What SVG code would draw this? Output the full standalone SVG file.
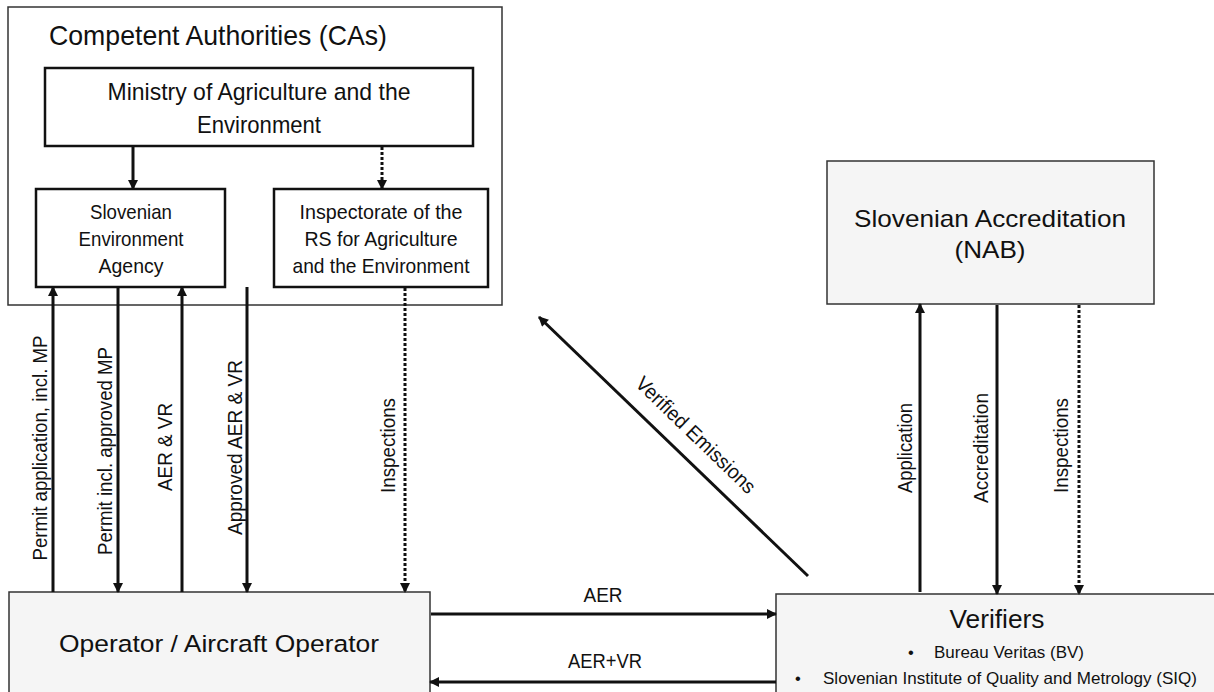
<svg xmlns="http://www.w3.org/2000/svg" width="1214" height="692" viewBox="0 0 1214 692">
  <style>
    text { font-family: "Liberation Sans", Arial, sans-serif; fill: #111; }
    .c { text-anchor: middle; }
    .box { fill: #ffffff; stroke: #111; stroke-width: 2.5; }
    .outer { fill: #ffffff; stroke: #333; stroke-width: 1.5; }
    .grey { fill: #f5f5f5; stroke: #333; stroke-width: 1.5; }
    .solid { stroke: #111; stroke-width: 3; fill: none; marker-end: url(#head); }
    .dot { stroke: #111; stroke-width: 3; fill: none; stroke-dasharray: 3 2; marker-end: url(#head); }
    .lbl { font-size: 20.5px; text-anchor: middle; }
  </style>
  <defs>
    <marker id="head" viewBox="0 0 10 10" refX="9" refY="5" markerWidth="11" markerHeight="10" markerUnits="userSpaceOnUse" orient="auto">
      <path d="M0,0 L10,5 L0,10 z" fill="#111"/>
    </marker>
  </defs>
  <rect width="1214" height="692" fill="#ffffff"/>

  <!-- Competent Authorities container -->
  <g id="competent-authorities">
    <rect class="outer" x="8" y="7" width="494" height="298"/>
    <text x="49" y="45" font-size="28" textLength="338" lengthAdjust="spacingAndGlyphs">Competent Authorities (CAs)</text>
  </g>

  <g id="ministry">
    <rect class="box" x="45" y="68" width="428" height="78"/>
    <text class="c" x="259" y="100" font-size="24.5" textLength="303" lengthAdjust="spacingAndGlyphs">Ministry of Agriculture and the</text>
    <text class="c" x="259" y="132.5" font-size="24.5" textLength="124" lengthAdjust="spacingAndGlyphs">Environment</text>
  </g>

  <g id="environment-agency">
    <rect class="box" x="36" y="189" width="189" height="98"/>
    <text class="c" x="131" y="218.5" font-size="21" textLength="82" lengthAdjust="spacingAndGlyphs">Slovenian</text>
    <text class="c" x="131" y="246" font-size="21" textLength="105" lengthAdjust="spacingAndGlyphs">Environment</text>
    <text class="c" x="131" y="272.5" font-size="21" textLength="65" lengthAdjust="spacingAndGlyphs">Agency</text>
  </g>

  <g id="inspectorate">
    <rect class="box" x="274" y="189" width="214" height="98"/>
    <text class="c" x="381" y="218.5" font-size="21" textLength="163" lengthAdjust="spacingAndGlyphs">Inspectorate of the</text>
    <text class="c" x="381" y="246" font-size="21" textLength="153" lengthAdjust="spacingAndGlyphs">RS for Agriculture</text>
    <text class="c" x="381" y="273" font-size="21" textLength="177" lengthAdjust="spacingAndGlyphs">and the Environment</text>
  </g>

  <g id="accreditation-body">
    <rect class="grey" x="827" y="161" width="327" height="143"/>
    <text class="c" x="990" y="227" font-size="24" textLength="272" lengthAdjust="spacingAndGlyphs">Slovenian Accreditation</text>
    <text class="c" x="990" y="258" font-size="24" textLength="71" lengthAdjust="spacingAndGlyphs">(NAB)</text>
  </g>

  <g id="operator">
    <rect class="grey" x="9" y="592" width="421" height="112"/>
    <text class="c" x="219" y="652" font-size="24.5" textLength="320" lengthAdjust="spacingAndGlyphs">Operator / Aircraft Operator</text>
  </g>

  <g id="verifiers">
    <rect class="grey" x="776" y="594" width="450" height="112"/>
    <text class="c" x="997" y="628" font-size="26" textLength="95" lengthAdjust="spacingAndGlyphs">Verifiers</text>
    <text x="908" y="658" font-size="16.5">•</text>
    <text x="934" y="658" font-size="16.5" textLength="150" lengthAdjust="spacingAndGlyphs">Bureau Veritas (BV)</text>
    <text x="795" y="684" font-size="16.5">•</text>
    <text x="823" y="684" font-size="16.5" textLength="374" lengthAdjust="spacingAndGlyphs">Slovenian Institute of Quality and Metrology (SIQ)</text>
  </g>

  <!-- Connectors and their labels -->
  <g id="connectors">
    <line class="solid" x1="133" y1="146" x2="133" y2="189"/>
    <line class="dot" x1="382" y1="147" x2="382" y2="189"/>

    <line class="solid" x1="53" y1="592" x2="53" y2="287"/>
    <line class="solid" x1="118" y1="287" x2="118" y2="592"/>
    <line class="solid" x1="182" y1="592" x2="182" y2="287"/>
    <line class="solid" x1="247" y1="287" x2="247" y2="592"/>
    <line class="dot" x1="405" y1="288" x2="405" y2="592"/>

    <line class="solid" x1="808" y1="576" x2="539" y2="317"/>

    <line class="solid" x1="431" y1="614" x2="776" y2="614"/>
    <line class="solid" x1="776" y1="682" x2="430" y2="682"/>

    <line class="solid" x1="920" y1="592" x2="920" y2="304"/>
    <line class="solid" x1="997" y1="305" x2="997" y2="594"/>
    <line class="dot" x1="1079" y1="305" x2="1079" y2="594"/>

    <text class="lbl" transform="translate(47,448) rotate(-90)" textLength="225" lengthAdjust="spacingAndGlyphs">Permit application, incl. MP</text>
    <text class="lbl" transform="translate(111.5,451) rotate(-90)" textLength="208" lengthAdjust="spacingAndGlyphs">Permit incl. approved MP</text>
    <text class="lbl" transform="translate(172,447) rotate(-90)" textLength="88" lengthAdjust="spacingAndGlyphs">AER &amp; VR</text>
    <text class="lbl" transform="translate(242,447.5) rotate(-90)" textLength="175" lengthAdjust="spacingAndGlyphs">Approved AER &amp; VR</text>
    <text class="lbl" transform="translate(395,445.5) rotate(-90)" textLength="95" lengthAdjust="spacingAndGlyphs">Inspections</text>

    <text class="lbl" transform="translate(691,440) rotate(44)" textLength="158" lengthAdjust="spacingAndGlyphs">Verified Emissions</text>

    <text class="lbl" x="603" y="602" textLength="39" lengthAdjust="spacingAndGlyphs">AER</text>
    <text class="lbl" x="605" y="668" textLength="74" lengthAdjust="spacingAndGlyphs">AER+VR</text>

    <text class="lbl" transform="translate(911.5,448) rotate(-90)" textLength="90" lengthAdjust="spacingAndGlyphs">Application</text>
    <text class="lbl" transform="translate(988,448) rotate(-90)" textLength="110" lengthAdjust="spacingAndGlyphs">Accreditation</text>
    <text class="lbl" transform="translate(1068,445.5) rotate(-90)" textLength="95" lengthAdjust="spacingAndGlyphs">Inspections</text>
  </g>
</svg>
